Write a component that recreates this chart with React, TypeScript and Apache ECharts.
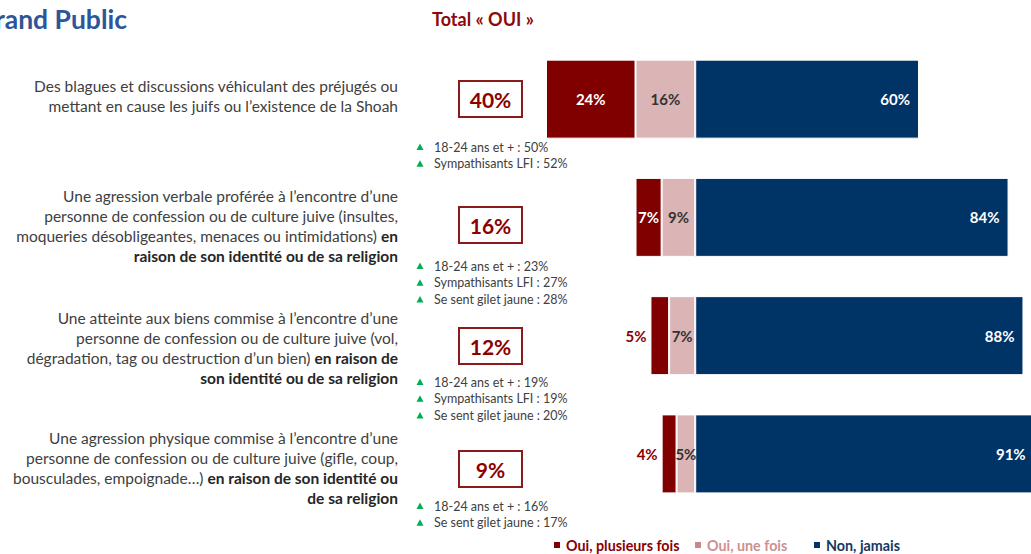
import React, { useEffect, useRef } from "react";
import * as echarts from "echarts";

// ---------- DATA ----------
const categories = [
  "Blagues et discussions",
  "Agression verbale",
  "Atteinte aux biens",
  "Agression physique",
];
const seriesNames = ["Oui, plusieurs fois", "Oui, une fois", "Non, jamais"];
const ouiPlusieursFois = [24, 7, 5, 4];
const ouiUneFois = [16, 9, 7, 5];
const nonJamais = [60, 84, 88, 91];

const questionLines: any[] = [
  [
    [["n", "Des blagues et discussions véhiculant des préjugés ou"]],
    [["n", "mettant en cause les juifs ou l’existence de la Shoah"]],
  ],
  [
    [["n", "Une agression verbale proférée à l’encontre d’une"]],
    [["n", "personne de confession ou de culture juive (insultes,"]],
    [["n", "moqueries désobligeantes, menaces ou intimidations) "], ["b", "en"]],
    [["b", "raison de son identité ou de sa religion"]],
  ],
  [
    [["n", "Une atteinte aux biens commise à l’encontre d’une"]],
    [["n", "personne de confession ou de culture juive (vol,"]],
    [["n", "dégradation, tag ou destruction d’un bien) "], ["b", "en raison de"]],
    [["b", "son identité ou de sa religion"]],
  ],
  [
    [["n", "Une agression physique commise à l’encontre d’une"]],
    [["n", "personne de confession ou de culture juive (gifle, coup,"]],
    [["n", "bousculades, empoignade…) "], ["b", "en raison de son identité ou"]],
    [["b", "de sa religion"]],
  ],
];

const subgroupNotes = [
  ["18-24 ans et + : 50%", "Sympathisants LFI : 52%"],
  ["18-24 ans et + : 23%", "Sympathisants LFI : 27%", "Se sent gilet jaune : 28%"],
  ["18-24 ans et + : 19%", "Sympathisants LFI : 19%", "Se sent gilet jaune : 20%"],
  ["18-24 ans et + : 16%", "Se sent gilet jaune : 17%"],
];

const titleText = "Grand Public";
const totalHeader = "Total « OUI »";

// ---------- STYLE / LAYOUT ----------
const FONT = "Lato, 'Open Sans', 'DejaVu Sans', sans-serif";
const C_DARKRED = "#800000";
const C_PINK = "#DBB5B5";
const C_NAVY = "#003366";
const C_TEXT = "#404040";

const questionCenterY = [96, 226, 348, 468];
const boxCenterY = [99, 225, 346, 469];
const noteFirstY = [147, 266, 382, 506];
const NOTE_STEP = 16.8;

export default function App() {
  const ref = useRef<HTMLDivElement>(null);

  useEffect(() => {
    if (!ref.current) return;
    const chart = echarts.init(ref.current, undefined, { renderer: "svg" });

    const graphics: any[] = [];

    graphics.push({
      type: "text",
      x: 127,
      y: 19,
      style: {
        text: titleText,
        align: "right",
        textAlign: "right",
        verticalAlign: "middle",
        textVerticalAlign: "middle",
        font: `bold 26.5px ${FONT}`,
        fill: "#2E5597",
      },
    });
    graphics.push({
      type: "text",
      x: 483,
      y: 19,
      style: {
        text: totalHeader,
        align: "center",
        textAlign: "center",
        verticalAlign: "middle",
        textVerticalAlign: "middle",
        font: `bold 18px ${FONT}`,
        fill: "#8B0A0A",
      },
    });

    questionLines.forEach((lines: any, i: number) => {
      const text = lines
        .map((segs: any) => segs.map((s: any) => `{${s[0]}|${s[1]}}`).join(""))
        .join("\n");
      graphics.push({
        type: "text",
        x: 398,
        y: questionCenterY[i],
        style: {
          text,
          align: "right",
          textAlign: "right",
          verticalAlign: "middle",
          textVerticalAlign: "middle",
          rich: {
            n: { fontSize: 15.5, fontFamily: FONT, fill: C_TEXT, lineHeight: 20 },
            b: {
              fontSize: 15.5,
              fontFamily: FONT,
              fontWeight: "bold",
              fill: "#262626",
              lineHeight: 20,
            },
          },
        },
      });

      const total = ouiPlusieursFois[i] + ouiUneFois[i];
      const cy = boxCenterY[i];
      graphics.push({
        type: "rect",
        shape: { x: 459, y: cy - 18, width: 63, height: 36 },
        style: { fill: "#ffffff", stroke: "#8B1A1A", lineWidth: 2 },
      });
      graphics.push({
        type: "text",
        x: 490.5,
        y: cy,
        style: {
          text: `${total}%`,
          align: "center",
          textAlign: "center",
          verticalAlign: "middle",
          textVerticalAlign: "middle",
          font: `bold 21px ${FONT}`,
          fill: "#8B0000",
        },
      });

      subgroupNotes[i].forEach((note, j) => {
        const y = noteFirstY[i] + j * NOTE_STEP;
        graphics.push({
          type: "polygon",
          shape: {
            points: [
              [416.5, y + 3],
              [423.5, y + 3],
              [420, y - 3.5],
            ],
          },
          style: { fill: "#00B050" },
        });
        graphics.push({
          type: "text",
          x: 434,
          y,
          style: {
            text: note,
            align: "left",
            textAlign: "left",
            verticalAlign: "middle",
            textVerticalAlign: "middle",
            font: `12.5px ${FONT}`,
            fill: C_TEXT,
          },
        });
      });
    });

    const labelBase = { fontFamily: FONT, fontWeight: "bold" as const, fontSize: 15 };

    const legendCommon = {
      top: 538,
      padding: 0,
      icon: "rect",
      itemWidth: 8,
      itemHeight: 8,
      selectedMode: false,
      textStyle: { fontFamily: FONT, fontWeight: "bold", fontSize: 14.3 },
    };

    chart.setOption({
      animation: false,
      backgroundColor: "#ffffff",
      grid: {
        left: 546,
        top: 40,
        width: 492.4,
        height: 473,
        containLabel: false,
        outerBoundsMode: "none",
      },
      xAxis: {
        type: "value",
        min: -40,
        max: 92,
        show: false,
      },
      yAxis: {
        type: "category",
        data: categories,
        inverse: true,
        show: false,
      },
      legend: [
        {
          ...legendCommon,
          left: 552,
          data: [{ name: seriesNames[0], textStyle: { color: "#8B0000" } }],
        },
        {
          ...legendCommon,
          left: 693,
          data: [
            {
              name: seriesNames[1],
              itemStyle: { color: "#C98888" },
              textStyle: { color: "#CC9191" },
            },
          ],
        },
        {
          ...legendCommon,
          left: 812,
          data: [{ name: seriesNames[2], textStyle: { color: "#17375E" } }],
        },
      ],
      series: [
        {
          name: seriesNames[1],
          type: "bar",
          stack: "total",
          barWidth: 79,
          itemStyle: { color: C_PINK, borderColor: "#ffffff", borderWidth: 1 },
          label: {
            show: true,
            position: "inside",
            color: "#333333",
            ...labelBase,
            formatter: (p: any) => `${Math.abs(p.value)}%`,
          },
          data: ouiUneFois.map((v) => -v),
        },
        {
          name: seriesNames[0],
          type: "bar",
          stack: "total",
          barWidth: 79,
          itemStyle: { color: C_DARKRED, borderColor: "#ffffff", borderWidth: 1 },
          label: {
            show: true,
            ...labelBase,
            formatter: (p: any) => `${Math.abs(p.value)}%`,
          },
          data: ouiPlusieursFois.map((v) => ({
            value: -v,
            label:
              v >= 7
                ? { position: "inside", color: "#ffffff" }
                : { position: "left", distance: 4, color: "#8B0000" },
          })),
        },
        {
          name: seriesNames[2],
          type: "bar",
          stack: "total",
          barWidth: 79,
          itemStyle: { color: C_NAVY, borderColor: "#ffffff", borderWidth: 1 },
          label: {
            show: true,
            position: "insideRight",
            distance: 9,
            color: "#ffffff",
            ...labelBase,
            formatter: (p: any) => `${p.value}%`,
          },
          data: nonJamais,
        },
      ],
      graphic: graphics,
    });

    return () => chart.dispose();
  }, []);

  return (
    <div
      ref={ref}
      style={{ position: "absolute", left: 0, top: 0, width: 1031, height: 554 }}
    />
  );
}
